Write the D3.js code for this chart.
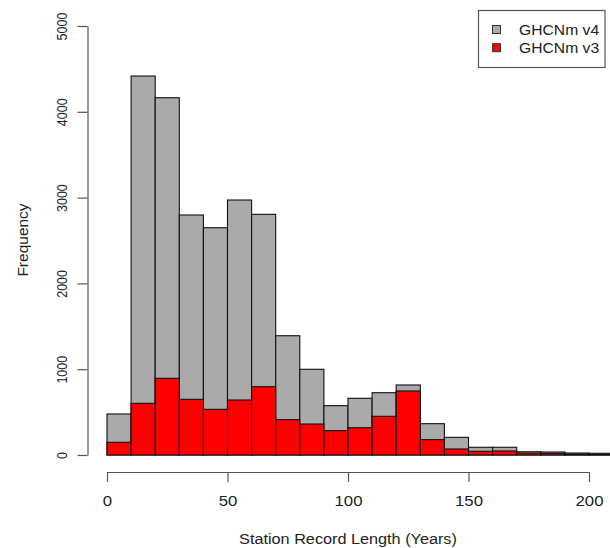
<!DOCTYPE html>
<html>
<head>
<meta charset="utf-8">
<script src="https://cdn.jsdelivr.net/npm/d3@7"></script>
<style>
  html, body { margin: 0; padding: 0; background: #fff; }
  svg { display: block; }
  text { font-family: "Liberation Sans", Arial, Helvetica, sans-serif; fill: #222; }
</style>
</head>
<body>
<svg id="chart" width="610" height="548"></svg>
<script>
// Histogram of station record lengths, 10-year bins starting at 0
const binStarts = [0, 10, 20, 30, 40, 50, 60, 70, 80, 90, 100, 110, 120, 130, 140, 150, 160, 170, 180, 190, 200];
const binWidth = 10;
const ghcnV4 = [478, 4417, 4164, 2797, 2649, 2972, 2805, 1390, 999, 575, 661, 726, 816, 365, 206, 90, 90, 38, 35, 23, 20];
const ghcnV3 = [148, 602, 894, 649, 532, 641, 796, 412, 361, 284, 318, 451, 746, 179, 70, 43, 47, 23, 20, 12, 6];
const xTicks = [0, 50, 100, 150, 200];
const yTicks = [0, 1000, 2000, 3000, 4000, 5000];
const seriesNames = ["GHCNm v4", "GHCNm v3"];
const seriesColors = ["#aaaaaa", "#ff0000"];

const svg = d3.select("#chart");
const x = d3.scaleLinear().domain([0, 200]).range([107, 589]);
const y = d3.scaleLinear().domain([0, 5000]).range([455, 26]);

// bars: v4 first, v3 overlaid on top
[ghcnV4, ghcnV3].forEach((vals, si) => {
  svg.append("g")
    .selectAll("rect")
    .data(binStarts.map((b, i) => ({ b, v: vals[i] })))
    .join("rect")
    .attr("x", d => x(d.b))
    .attr("width", d => x(d.b + binWidth) - x(d.b))
    .attr("y", d => y(d.v))
    .attr("height", d => y(0) - y(d.v))
    .attr("fill", seriesColors[si])
    .attr("stroke", "#111")
    .attr("stroke-width", 1.1);
});

// x axis
const gx = svg.append("g")
  .attr("transform", "translate(0,472)")
  .call(d3.axisBottom(x).tickValues(xTicks).tickFormat(d3.format("d"))
    .tickSize(10).tickSizeOuter(0).tickPadding(14));
gx.selectAll("path, line").attr("stroke", "#555").attr("stroke-width", 1.2);
gx.selectAll("text")
  .attr("font-size", 14)
  .style("font-family", "Liberation Sans, Arial, sans-serif")
  .attr("fill", "#222")
  .attr("transform", "scale(1.2,1)");

// y axis
const gy = svg.append("g")
  .attr("transform", "translate(87.5,0)")
  .call(d3.axisLeft(y).tickValues(yTicks).tickFormat(d3.format("d"))
    .tickSize(10).tickSizeOuter(0));
gy.selectAll("path, line").attr("stroke", "#555").attr("stroke-width", 1.2);
gy.selectAll("text")
  .attr("font-size", 12.5)
  .style("font-family", "Liberation Sans, Arial, sans-serif")
  .attr("fill", "#222")
  .attr("x", 0).attr("y", 0).attr("dy", 0)
  .attr("text-anchor", "middle")
  .attr("transform", "translate(-21,0) scale(1.2,1) rotate(-90)");

// axis titles
svg.append("text")
  .attr("transform", "translate(348,544) scale(1.16,1)")
  .attr("text-anchor", "middle")
  .attr("font-size", 14)
  .text("Station Record Length (Years)");

svg.append("text")
  .attr("transform", "translate(27.5,240) rotate(-90)")
  .attr("text-anchor", "middle")
  .attr("font-size", 15.5)
  .text("Frequency");

// legend
const lg = svg.append("g");
lg.append("rect")
  .attr("x", 478.5).attr("y", 10.5)
  .attr("width", 126.5).attr("height", 57)
  .attr("fill", "#fff").attr("stroke", "#555").attr("stroke-width", 1.2);
const legendRows = [34.5, 52.7];
seriesNames.forEach((name, i) => {
  lg.append("rect")
    .attr("x", 492.5).attr("y", legendRows[i] - 9)
    .attr("width", 8).attr("height", 8)
    .attr("fill", seriesColors[i]).attr("stroke", "#333").attr("stroke-width", 1);
  lg.append("text")
    .attr("transform", `translate(519,${legendRows[i]}) scale(1.12,1)`)
    .attr("font-size", 14)
    .text(name);
});
</script>
</body>
</html>
